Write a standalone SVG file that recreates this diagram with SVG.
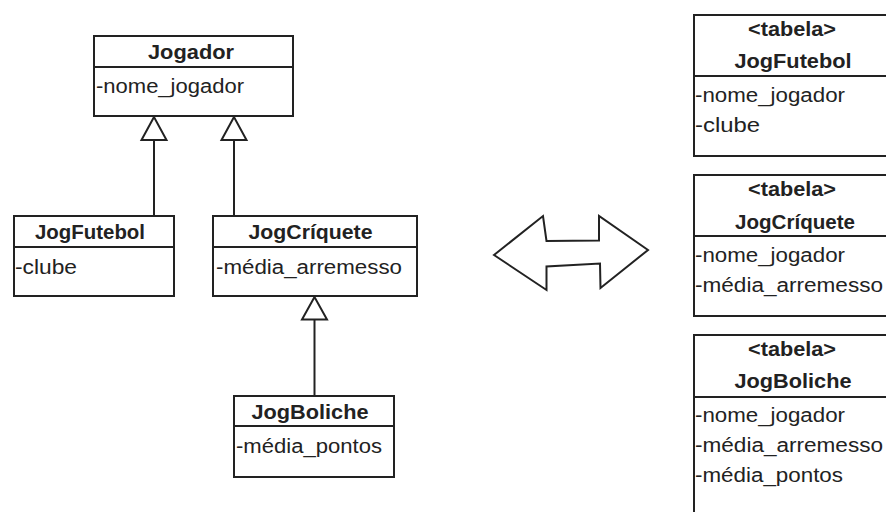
<svg xmlns="http://www.w3.org/2000/svg" width="886" height="512" viewBox="0 0 886 512">
  <defs>
    <style>
      .box { fill: #ffffff; stroke: #222222; stroke-width: 2; }
      .div { stroke: #222222; stroke-width: 2; }
      .t { font-family: "Liberation Sans", Arial, sans-serif; font-size: 20px; fill: #222222; }
      .b { font-weight: bold; text-anchor: middle; }
      .edge { stroke: #222222; stroke-width: 2; fill: none; }
      .head { fill: #ffffff; stroke: #222222; stroke-width: 2; stroke-linejoin: miter; }
    </style>
  </defs>
  <rect width="886" height="512" fill="#ffffff"/>

  <!-- inheritance connectors -->
  <g id="connectors">
    <line class="edge" x1="154" y1="140" x2="154" y2="216"/>
    <polygon class="head" points="154,117 141.5,140 166.5,140"/>
    <line class="edge" x1="234" y1="140" x2="234" y2="216"/>
    <polygon class="head" points="234,117 221.5,140 246.5,140"/>
    <line class="edge" x1="314.5" y1="319.5" x2="314.5" y2="396"/>
    <polygon class="head" points="314.5,297 302,319.5 327,319.5"/>
  </g>

  <!-- class Jogador -->
  <g id="jogador">
    <rect class="box" x="94" y="36" width="199" height="80"/>
    <line class="div" x1="94" y1="67" x2="293" y2="67"/>
    <text class="t b" x="191" y="58.5" textLength="86" lengthAdjust="spacingAndGlyphs">Jogador</text>
    <text class="t" x="96" y="93" textLength="148" lengthAdjust="spacingAndGlyphs">-nome_jogador</text>
  </g>

  <!-- class JogFutebol -->
  <g id="jogfutebol">
    <rect class="box" x="14" y="216" width="160" height="80"/>
    <line class="div" x1="14" y1="247" x2="174" y2="247"/>
    <text class="t b" x="90" y="239" textLength="110" lengthAdjust="spacingAndGlyphs">JogFutebol</text>
    <text class="t" x="15" y="274" textLength="62" lengthAdjust="spacingAndGlyphs">-clube</text>
  </g>

  <!-- class JogCríquete -->
  <g id="jogcriquete">
    <rect class="box" x="213" y="216" width="204" height="80"/>
    <line class="div" x1="213" y1="247" x2="417" y2="247"/>
    <text class="t b" x="310.5" y="239" textLength="124" lengthAdjust="spacingAndGlyphs">JogCríquete</text>
    <text class="t" x="216" y="274" textLength="186" lengthAdjust="spacingAndGlyphs">-média_arremesso</text>
  </g>

  <!-- class JogBoliche -->
  <g id="jogboliche">
    <rect class="box" x="234" y="396" width="160" height="81"/>
    <line class="div" x1="234" y1="426" x2="394" y2="426"/>
    <text class="t b" x="310" y="419" textLength="117" lengthAdjust="spacingAndGlyphs">JogBoliche</text>
    <text class="t" x="236" y="453" textLength="146" lengthAdjust="spacingAndGlyphs">-média_pontos</text>
  </g>

  <!-- two-way mapping arrow -->
  <g id="mapping-arrow">
    <polygon class="head" points="494,255 543,216 546.5,241 599,240.5 599,216 648,250 600.5,288 600,263.5 546.5,266.5 546.5,290"/>
  </g>

  <!-- table JogFutebol -->
  <g id="tabela-jogfutebol">
    <rect class="box" x="694" y="15" width="194" height="141"/>
    <line class="div" x1="694" y1="76" x2="888" y2="76"/>
    <text class="t b" x="792" y="36" textLength="88" lengthAdjust="spacingAndGlyphs">&lt;tabela&gt;</text>
    <text class="t b" x="793" y="68" textLength="117" lengthAdjust="spacingAndGlyphs">JogFutebol</text>
    <text class="t" x="695" y="102" textLength="150" lengthAdjust="spacingAndGlyphs">-nome_jogador</text>
    <text class="t" x="695" y="132" textLength="65" lengthAdjust="spacingAndGlyphs">-clube</text>
  </g>

  <!-- table JogCríquete -->
  <g id="tabela-jogcriquete">
    <rect class="box" x="694" y="175" width="194" height="141"/>
    <line class="div" x1="694" y1="236" x2="888" y2="236"/>
    <text class="t b" x="792" y="196" textLength="88" lengthAdjust="spacingAndGlyphs">&lt;tabela&gt;</text>
    <text class="t b" x="795" y="228.5" textLength="120" lengthAdjust="spacingAndGlyphs">JogCríquete</text>
    <text class="t" x="695" y="262" textLength="150" lengthAdjust="spacingAndGlyphs">-nome_jogador</text>
    <text class="t" x="695" y="292" textLength="188" lengthAdjust="spacingAndGlyphs">-média_arremesso</text>
  </g>

  <!-- table JogBoliche -->
  <g id="tabela-jogboliche">
    <rect class="box" x="694" y="335" width="194" height="190"/>
    <line class="div" x1="694" y1="397" x2="888" y2="397"/>
    <text class="t b" x="792" y="356" textLength="88" lengthAdjust="spacingAndGlyphs">&lt;tabela&gt;</text>
    <text class="t b" x="793" y="388" textLength="117" lengthAdjust="spacingAndGlyphs">JogBoliche</text>
    <text class="t" x="695" y="422" textLength="150" lengthAdjust="spacingAndGlyphs">-nome_jogador</text>
    <text class="t" x="695" y="452" textLength="188" lengthAdjust="spacingAndGlyphs">-média_arremesso</text>
    <text class="t" x="695" y="482" textLength="148" lengthAdjust="spacingAndGlyphs">-média_pontos</text>
  </g>
</svg>
